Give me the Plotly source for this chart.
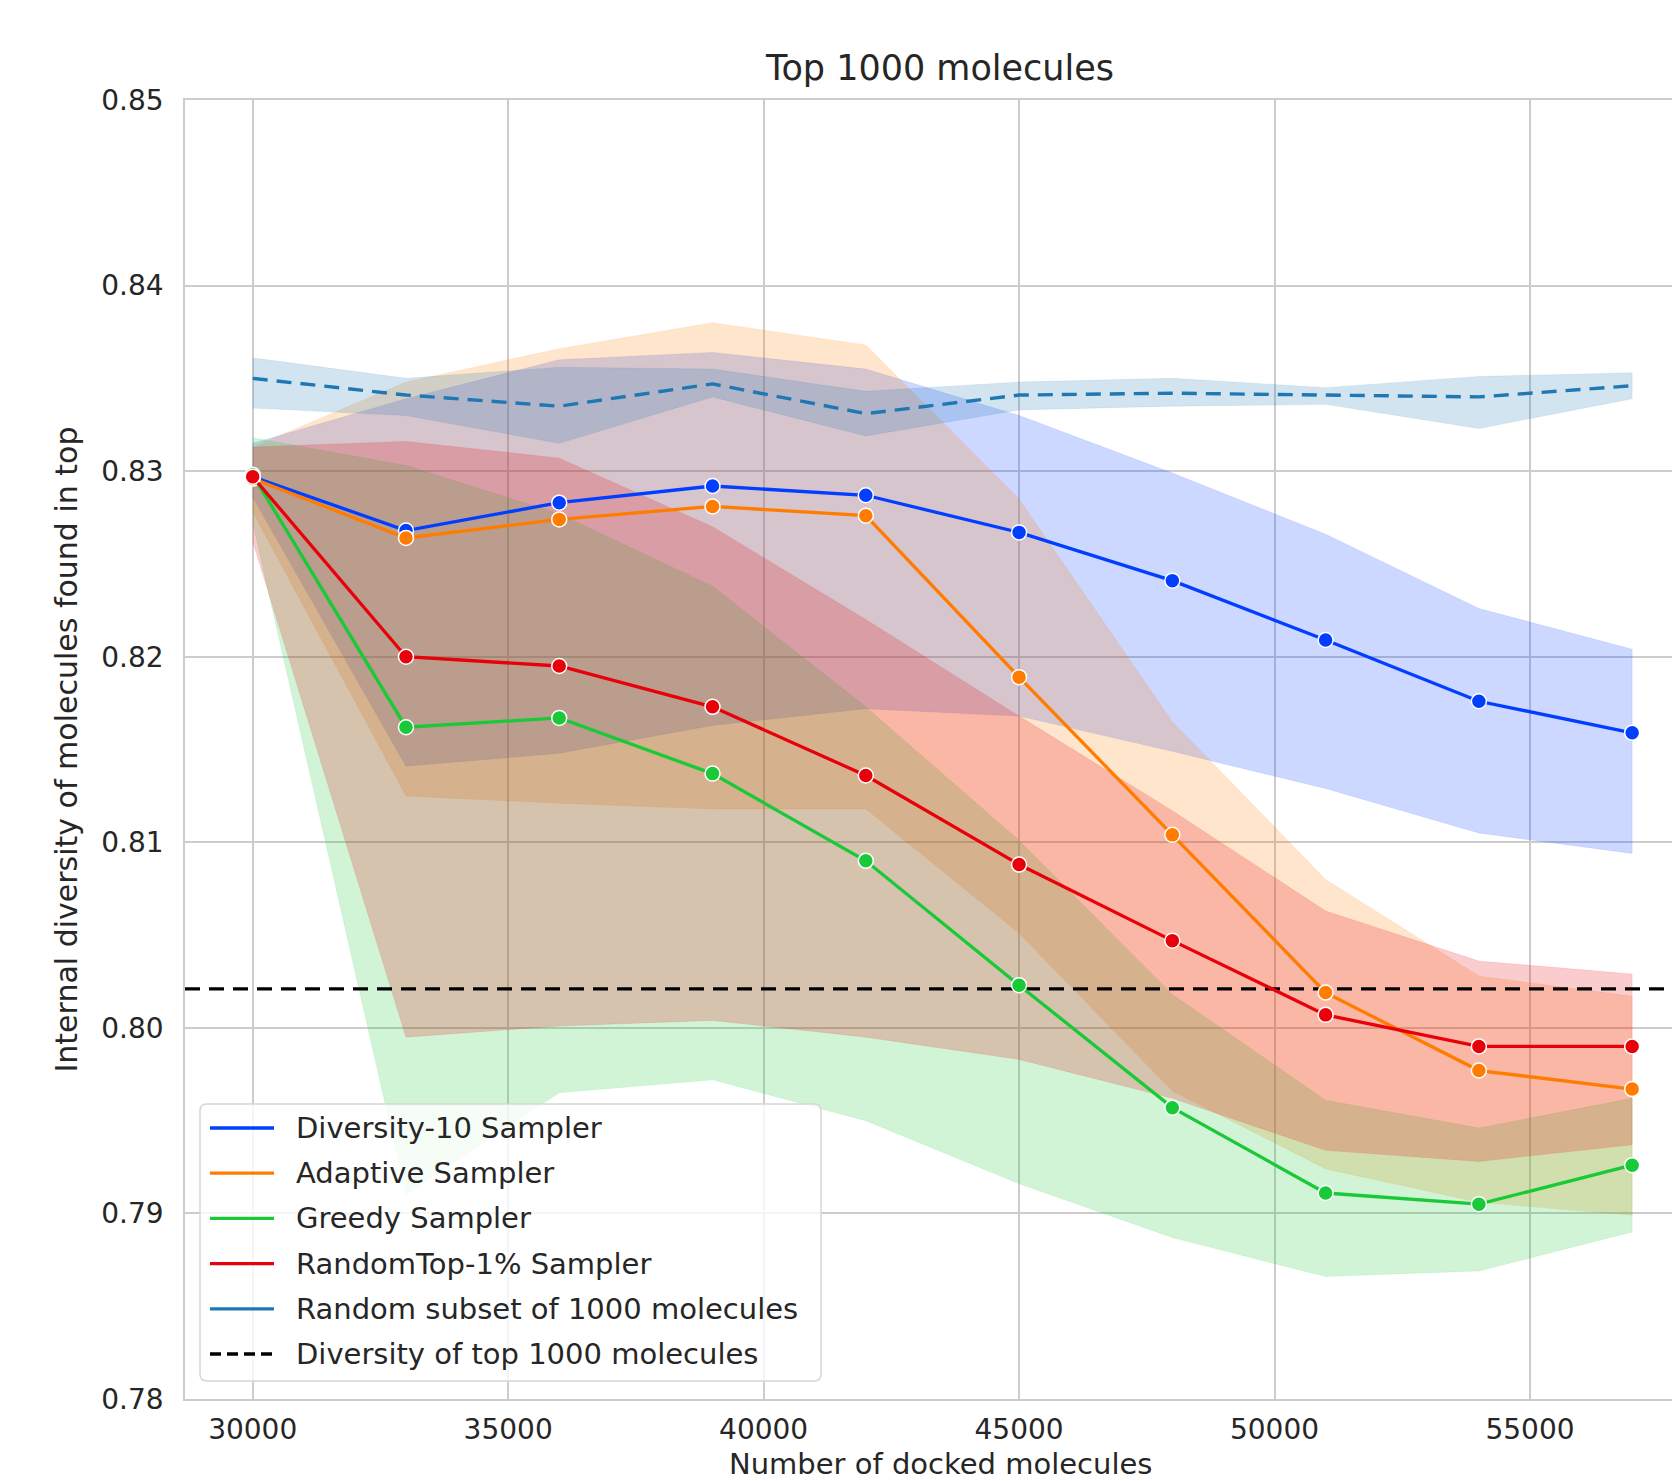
import plotly.graph_objects as go

# ---------------- data ----------------
x_docked = [30000, 33000, 36000, 39000, 42000, 45000, 48000, 51000, 54000, 57000]

div10_mean = [0.8297, 0.8268, 0.8283, 0.8292, 0.8287, 0.8267, 0.8241, 0.8209, 0.8176, 0.8159]
div10_lo   = [0.8286, 0.8141, 0.8148, 0.8163, 0.8172, 0.8168, 0.8149, 0.8129, 0.8105, 0.8094]
div10_hi   = [0.8315, 0.8339, 0.8360, 0.8364, 0.8355, 0.8330, 0.8299, 0.8266, 0.8226, 0.8204]

adapt_mean = [0.8296, 0.8264, 0.8274, 0.8281, 0.8276, 0.8189, 0.8104, 0.8019, 0.7977, 0.7967]
adapt_lo   = [0.8278, 0.8125, 0.8121, 0.8118, 0.8118, 0.8051, 0.7966, 0.7924, 0.7906, 0.7899]
adapt_hi   = [0.8313, 0.8348, 0.8366, 0.8380, 0.8368, 0.8285, 0.8165, 0.8080, 0.8028, 0.8017]

greedy_mean = [0.8298, 0.8162, 0.8167, 0.8137, 0.8090, 0.8023, 0.7957, 0.7911, 0.7905, 0.7926]
greedy_lo   = [0.8272, 0.7910, 0.7965, 0.7972, 0.7950, 0.7916, 0.7887, 0.7866, 0.7869, 0.7890]
greedy_hi   = [0.8318, 0.8303, 0.8277, 0.8238, 0.8173, 0.8101, 0.8018, 0.7961, 0.7946, 0.7962]

rtop_mean = [0.8297, 0.8200, 0.8195, 0.8173, 0.8136, 0.8088, 0.8047, 0.8007, 0.7990, 0.7990]
rtop_lo   = [0.8262, 0.7995, 0.8001, 0.8004, 0.7995, 0.7983, 0.7962, 0.7934, 0.7928, 0.7937]
rtop_hi   = [0.8313, 0.8316, 0.8307, 0.8270, 0.8220, 0.8168, 0.8117, 0.8063, 0.8036, 0.8029]

rand_mean = [0.8350, 0.8341, 0.8335, 0.8347, 0.8331, 0.8341, 0.8342, 0.8341, 0.8340, 0.8346]
rand_lo   = [0.8334, 0.8330, 0.8315, 0.8340, 0.8319, 0.8333, 0.8335, 0.8336, 0.8323, 0.8339]
rand_hi   = [0.8361, 0.8350, 0.8356, 0.8355, 0.8343, 0.8348, 0.8350, 0.8345, 0.8351, 0.8353]

top1000_diversity = 0.8021

x_ticks = [30000, 35000, 40000, 45000, 50000, 55000]
y_ticks = [0.78, 0.79, 0.80, 0.81, 0.82, 0.83, 0.84, 0.85]
X_RANGE = [28675, 57780]
Y_RANGE = [0.78, 0.85]

legend_labels = ["Diversity-10 Sampler", "Adaptive Sampler", "Greedy Sampler",
                 "RandomTop-1% Sampler", "Random subset of 1000 molecules",
                 "Diversity of top 1000 molecules"]

# ---------------- style ----------------
FONT = "DejaVu Sans"
TXT = "#262626"
GRID = "#cccccc"
C_BLUE = (2, 62, 255)
C_ORANGE = (255, 124, 0)
C_GREEN = (26, 201, 56)
C_RED = (232, 0, 11)
C_TAB = (31, 119, 180)

def rgb(c, a=1.0):
    return f"rgba({c[0]},{c[1]},{c[2]},{a})"

W, H = 1672, 1481
ML, MR, MT, MB = 185, 0, 100, 82
PW, PH = W - ML - MR, H - MT - MB

def px(xp):
    return (xp - ML) / PW

def py(yp):
    return (H - MB - yp) / PH

fig = go.Figure()

series = [
    (div10_mean, div10_lo, div10_hi, C_BLUE),
    (adapt_mean, adapt_lo, adapt_hi, C_ORANGE),
    (greedy_mean, greedy_lo, greedy_hi, C_GREEN),
    (rtop_mean, rtop_lo, rtop_hi, C_RED),
]

# bands
for mean, lo, hi, col in series:
    fig.add_trace(go.Scatter(
        x=x_docked + x_docked[::-1], y=hi + lo[::-1],
        fill="toself", fillcolor=rgb(col, 0.2), line=dict(width=0.8, color=rgb(col, 0.12)),
        mode="lines", showlegend=False, hoverinfo="skip"))
fig.add_trace(go.Scatter(
    x=x_docked + x_docked[::-1], y=rand_hi + rand_lo[::-1],
    fill="toself", fillcolor=rgb(C_TAB, 0.2), line=dict(width=0.8, color=rgb(C_TAB, 0.12)),
    mode="lines", showlegend=False, hoverinfo="skip"))

# random subset dashed line
fig.add_trace(go.Scatter(
    x=x_docked, y=rand_mean, mode="lines",
    line=dict(color=rgb(C_TAB), width=3.4, dash="15px,9px"),
    showlegend=False))

# horizontal reference
fig.add_trace(go.Scatter(
    x=X_RANGE, y=[top1000_diversity, top1000_diversity], mode="lines",
    line=dict(color="black", width=3.4, dash="15px,9px"), showlegend=False))

# sampler lines
for mean, lo, hi, col in series:
    fig.add_trace(go.Scatter(
        x=x_docked, y=mean, mode="lines+markers",
        line=dict(color=rgb(col), width=3.3),
        marker=dict(size=15, color=rgb(col), line=dict(color="white", width=1.5)),
        showlegend=False))

# ---------------- custom legend ----------------
shapes = []
bx0, bx1, by0, by1 = 200, 821, 1104, 1381
r = 7
rx, ry = r / PW, r / PH
X0, X1, Y0, Y1 = px(bx0), px(bx1), py(by1), py(by0)
path = (f"M {X0+rx},{Y0} L {X1-rx},{Y0} Q {X1},{Y0} {X1},{Y0+ry} "
        f"L {X1},{Y1-ry} Q {X1},{Y1} {X1-rx},{Y1} L {X0+rx},{Y1} "
        f"Q {X0},{Y1} {X0},{Y1-ry} L {X0},{Y0+ry} Q {X0},{Y0} {X0+rx},{Y0} Z")
shapes.append(dict(type="path", path=path, xref="paper", yref="paper",
                   fillcolor="rgba(255,255,255,0.8)", line=dict(color="#d6d6d6", width=1.5),
                   layer="above"))
legend_cols = [rgb(C_BLUE), rgb(C_ORANGE), rgb(C_GREEN), rgb(C_RED), rgb(C_TAB), "black"]
legend_dash = ["solid"] * 5 + ["dash"]
annotations = []
for i, (lab, col, dsh) in enumerate(zip(legend_labels, legend_cols, legend_dash)):
    yc = 1128 + i * 45.2
    shapes.append(dict(type="line", xref="paper", yref="paper",
                       x0=px(210), x1=px(274), y0=py(yc), y1=py(yc),
                       line=dict(color=col, width=3.3, dash="11px,6px" if dsh == "dash" else "solid"),
                       layer="above"))
    annotations.append(dict(text=lab, xref="paper", yref="paper", x=px(294), y=py(yc),
                            xanchor="left", yanchor="middle", showarrow=False,
                            font=dict(family=FONT, size=29, color=TXT)))

annotations.append(dict(text="Internal diversity of molecules found in top", xref="paper", yref="paper",
                        x=px(66), y=0.5, textangle=-90, xanchor="center", yanchor="middle",
                        showarrow=False, font=dict(family=FONT, size=30, color=TXT)))
annotations.append(dict(text="Number of docked molecules", xref="paper", yref="paper",
                        x=px(940), y=py(1464), xanchor="center", yanchor="middle",
                        showarrow=False, font=dict(family=FONT, size=29, color=TXT)))

fig.update_layout(
    width=W, height=H,
    margin=dict(l=ML, r=MR, t=MT, b=MB, pad=0),
    paper_bgcolor="white", plot_bgcolor="white",
    title=dict(text="Top 1000 molecules", x=940 / W, xanchor="center",
               y=1 - 68 / H, yanchor="middle", font=dict(family=FONT, size=35, color=TXT)),
    xaxis=dict(range=X_RANGE, tickvals=x_ticks, ticktext=[str(v) for v in x_ticks],
               showgrid=True, gridcolor=GRID, gridwidth=1.5, zeroline=False,
               showline=True, linecolor=GRID, linewidth=1.5, mirror=True,
               ticks="outside", ticklen=5, tickcolor="rgba(0,0,0,0)",
               tickfont=dict(family=FONT, size=28, color=TXT)),
    yaxis=dict(range=Y_RANGE, tickvals=y_ticks, ticktext=[f"{v:.2f}" for v in y_ticks],
               showgrid=True, gridcolor=GRID, gridwidth=1.5, zeroline=False,
               showline=True, linecolor=GRID, linewidth=1.5, mirror=False,
               ticks="outside", ticklen=14, tickcolor="rgba(0,0,0,0)",
               tickfont=dict(family=FONT, size=28, color=TXT)),
    shapes=shapes, annotations=annotations, showlegend=False,
)

fig.write_html("out.html")
